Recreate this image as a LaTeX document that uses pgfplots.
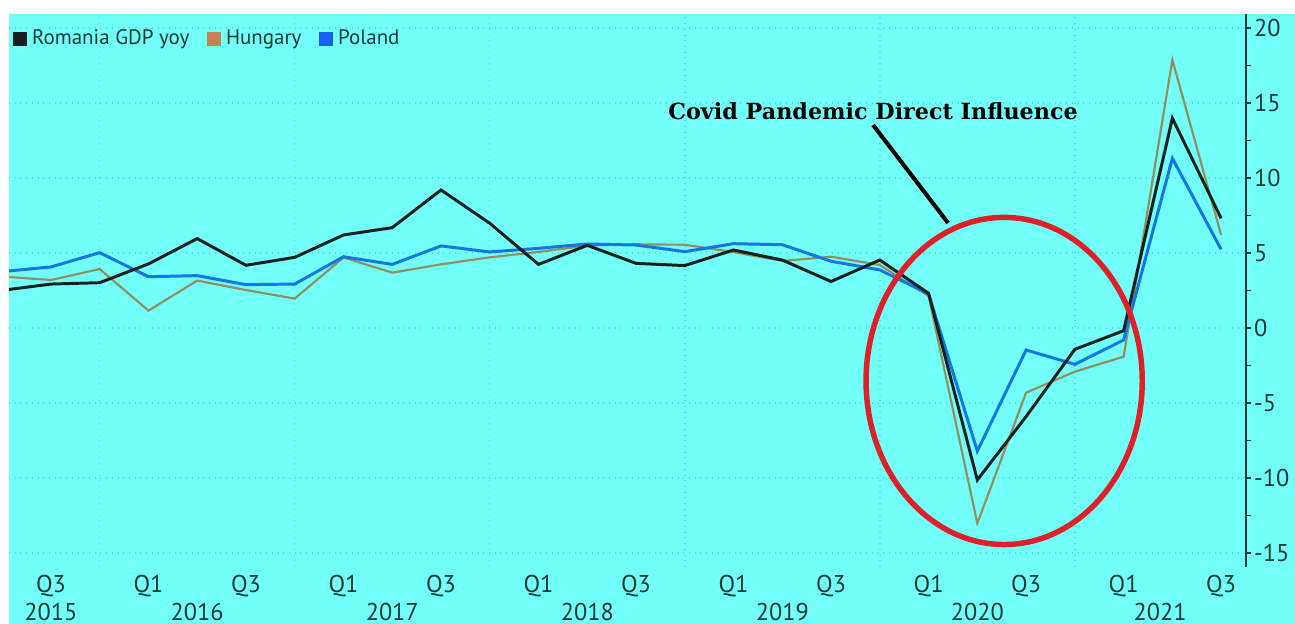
\documentclass[border=0pt]{standalone}
\usepackage{pgfplots}
\usepackage{pgfplotstable}
\pgfplotsset{compat=1.18}
\usepackage{fontspec}
\setmainfont{PT Sans}
\newfontfamily\notefont{DejaVu Serif}

\definecolor{bgcyan}{RGB}{114,254,249}
\definecolor{gridc}{RGB}{86,222,212}
\definecolor{labelc}{RGB}{18,58,52}
\definecolor{romania}{RGB}{22,32,30}
\definecolor{hungary}{RGB}{146,142,96}
\definecolor{hungarykey}{RGB}{198,128,84}
\definecolor{poland}{RGB}{20,118,226}
\definecolor{polandkey}{RGB}{24,98,240}
\definecolor{ringred}{RGB}{222,32,40}

% Quarterly GDP growth, % y/y; t = 0 is Q3 2015
\pgfplotstableread{
t   romania hungary poland
-1    2.51    3.43   3.76
0     2.93    3.20   4.07
1     3.02    3.93   5.02
2     4.27    1.16   3.42
3     5.96    3.16   3.49
4     4.18    2.53   2.89
5     4.71    1.96   2.93
6     6.20    4.70   4.75
7     6.69    3.69   4.24
8     9.20    4.24   5.47
9     6.98    4.71   5.07
10    4.24    5.07   5.31
11    5.51    5.50   5.60
12    4.31    5.58   5.53
13    4.16    5.55   5.09
14    5.20    5.06   5.62
15    4.53    4.47   5.55
16    3.10    4.75   4.45
17    4.53    4.20   3.87
18    2.31    2.13   2.27
19  -10.13  -13.02  -8.20
20   -5.90   -4.31  -1.47
21   -1.42   -2.91  -2.42
22   -0.18   -1.91  -0.80
23   13.98   17.87  11.31
24    7.31    6.20   5.24
}\gdpdata

\begin{document}
\begin{tikzpicture}
\useasboundingbox (-3.78pt,-23.94pt) rectangle (540.12pt,238.14pt);
\fill[white] (-3.78pt,-23.94pt) rectangle (540.12pt,238.14pt);
\fill[bgcyan] (0pt,-23.94pt) rectangle (540.12pt,232.26pt);
\begin{axis}[
  at={(0pt,0pt)}, anchor=south west,
  scale only axis, width=519.54pt, height=232.26pt,
  xmin=-0.86, xmax=24.51, ymin=-15.93, ymax=20.93,
  axis y line*=right, axis x line*=bottom,
  x axis line style={draw=none},
  y axis line style={draw=labelc, line width=0.7pt},
  xtick={0,2,...,24},
  xticklabels={Q3,Q1,Q3,Q1,Q3,Q1,Q3,Q1,Q3,Q1,Q3,Q1,Q3},
  x tick style={draw=none},
  minor xtick={1,5,9,13,17,21},
  minor x tick style={draw=none},
  xminorgrids, ymajorgrids,
  major grid style={gridc, dotted, line width=0.6pt},
  minor grid style={gridc, dotted, line width=0.6pt},
  ytick={-15,-10,...,20},
  yticklabels={-15,-10,-5,0,5,10,15,20},
  minor y tick num=1,
  y tick style={labelc, line width=0.7pt},
  tick align=outside,
  major tick length=2.2pt, minor tick length=2.2pt,
  tick label style={font=\fontsize{10.2}{12}\selectfont, text=labelc},
  yticklabel style={anchor=west, inner sep=1pt},
  xticklabel style={yshift=2.1pt},
  extra x ticks={0,3,7,11,15,19,22.75},
  extra x tick labels={2015,2016,2017,2018,2019,2020,2021},
  extra x tick style={grid=none, major tick length=0pt,
    xticklabel style={yshift=-13.9pt}},
  legend style={at={(0,1)}, anchor=north west, xshift=1.6pt, yshift=-4.3pt,
    draw=none, fill=none, inner sep=0pt,
    font=\fontsize{8.8}{10}\selectfont, text=labelc,
    /tikz/every even column/.append style={column sep=5.5pt}},
  legend columns=3,
  legend cell align=left,
]
\addlegendimage{legend image code/.code={\fill[romania] (0pt,-2.8pt) rectangle (5.5pt,2.8pt);}}
\addlegendentry{Romania GDP yoy}
\addlegendimage{legend image code/.code={\fill[hungarykey] (0pt,-2.8pt) rectangle (5.5pt,2.8pt);}}
\addlegendentry{Hungary}
\addlegendimage{legend image code/.code={\fill[polandkey] (0pt,-2.8pt) rectangle (5.5pt,2.8pt);}}
\addlegendentry{Poland}

\addplot[forget plot, hungary, line width=0.9pt, no markers] table[x=t, y=hungary] {\gdpdata};
\addplot[forget plot, poland, line width=1.25pt, no markers] table[x=t, y=poland] {\gdpdata};
\addplot[forget plot, romania, line width=1.25pt, no markers] table[x=t, y=romania] {\gdpdata};

% Pandemic annotation
\node[font=\notefont\bfseries\fontsize{9.35}{11}\selectfont, anchor=base]
  at (axis cs:16.862,13.93) {Covid Pandemic Direct Influence};
\draw[black, line width=1.7pt] (axis cs:16.862,13.53) -- (axis cs:18.4,7.0);
\draw[ringred, line width=2.3pt] (axis cs:19.55,-3.53) ellipse [x radius=58pt, y radius=68.7pt];
\end{axis}
\end{tikzpicture}
\end{document}
